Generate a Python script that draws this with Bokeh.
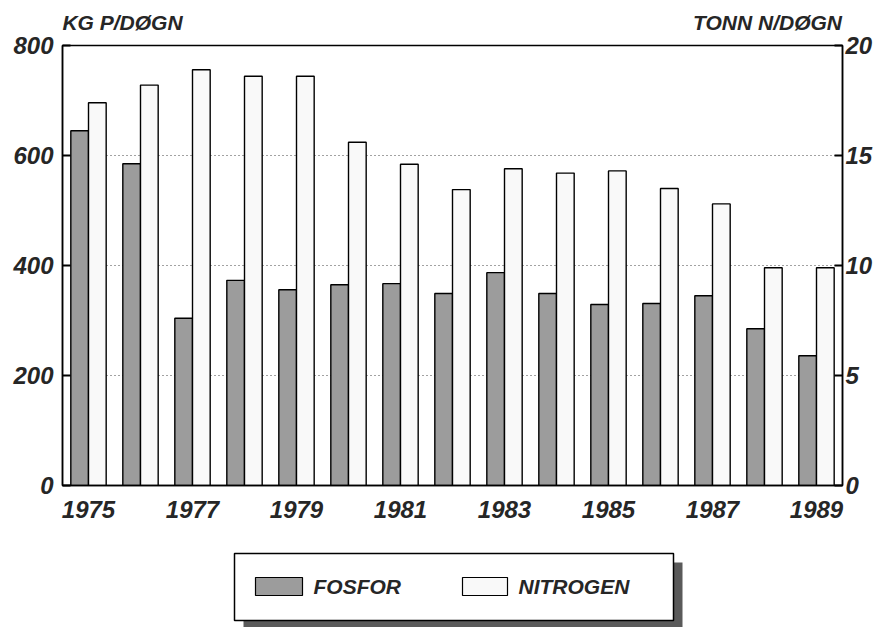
from bokeh.plotting import figure
from bokeh.models import Range1d, LinearAxis, FixedTicker
from bokeh.layouts import column
from bokeh.embed import file_html
from bokeh.resources import INLINE
from bokeh.core.properties import value

# ---- data ----
years = [1975, 1976, 1977, 1978, 1979, 1980, 1981, 1982, 1983, 1984, 1985, 1986, 1987, 1988, 1989]
fosfor = [645, 585, 304, 373, 356, 365, 367, 349, 387, 349, 329, 331, 345, 285, 236]          # kg P/døgn
nitrogen = [17.4, 18.2, 18.9, 18.6, 18.6, 15.6, 14.6, 13.45, 14.4, 14.2, 14.3, 13.5, 12.8, 9.9, 9.9]  # tonn N/døgn
year_ticks = [1975, 1977, 1979, 1981, 1983, 1985, 1987, 1989]
left_ticks = [0, 200, 400, 600, 800]
right_ticks = [0, 5, 10, 15, 20]
left_title = "KG P/DØGN"
right_title = "TONN N/DØGN"
series_names = ["FOSFOR", "NITROGEN"]

# ---- style / layout ----
FONT = "Liberation Sans"
TXT = "#262626"
C_FOS = "#9c9c9c"
C_NIT = "#f9f9f9"
BW = 0.34
FL, FW, BR = 62, 780, 39      # frame left, frame width, right border
TOP_B, FH, BOT_H, LEG_H = 45, 440, 50, 92
TITLE_POS = [60, 705]          # title centres, in pixels from the frame's left edge

# ---- main chart ----
p = figure(frame_width=FW, frame_height=FH, min_border_left=FL, min_border_right=BR,
           min_border_top=TOP_B, min_border_bottom=BOT_H,
           x_range=Range1d(years[0] - 0.5, years[-1] + 0.5), y_range=Range1d(0, 800),
           output_backend="svg", toolbar_location=None, background_fill_color="white",
           border_fill_color="white")
p.extra_y_ranges = {"n": Range1d(0, 20)}
p.extra_x_ranges = {"px": Range1d(0, FW)}

p.outline_line_color = "black"
p.outline_line_width = 1.5

p.xgrid.visible = False
p.ygrid.ticker = FixedTicker(ticks=left_ticks[1:-1])
p.ygrid.grid_line_color = "#444444"
p.ygrid.grid_line_dash = "1 3"
p.ygrid.grid_line_width = 1

xf = [y - BW / 2 for y in years]
xn = [y + BW / 2 for y in years]
p.vbar(x=xf, top=fosfor, bottom=0, width=BW, fill_color=C_FOS, line_color="black", line_width=1.4)
p.vbar(x=xn, top=nitrogen, bottom=0, width=BW, fill_color=C_NIT, line_color="black", line_width=1.4,
       y_range_name="n")

raxis = LinearAxis(y_range_name="n")
p.add_layout(raxis, "right")

for ax in [p.yaxis[0], raxis]:
    ax.major_tick_in = 8
    ax.major_tick_out = 0
    ax.minor_tick_line_color = None
    ax.major_tick_line_color = "black"
    ax.major_tick_line_width = 2
    ax.axis_line_color = "black"
    ax.axis_line_width = 1.5
    ax.major_label_text_font = FONT
    ax.major_label_text_font_style = "bold italic"
    ax.major_label_text_font_size = "24px"
    ax.major_label_text_color = TXT
p.yaxis[0].ticker = FixedTicker(ticks=left_ticks)
p.yaxis[0].major_label_standoff = 9
raxis.ticker = FixedTicker(ticks=right_ticks)
raxis.major_label_standoff = 3

xa = p.xaxis[0]
xa.ticker = FixedTicker(ticks=year_ticks)
xa.major_tick_line_color = None
xa.minor_tick_line_color = None
xa.axis_line_color = "black"
xa.axis_line_width = 1.5
xa.major_label_text_font = FONT
xa.major_label_text_font_style = "bold italic"
xa.major_label_text_font_size = "24px"
xa.major_label_text_color = TXT
xa.major_label_standoff = 9

# axis titles, set as the labels of a bare axis above the frame
tax = LinearAxis(x_range_name="px", ticker=FixedTicker(ticks=TITLE_POS),
                 major_label_overrides={TITLE_POS[0]: left_title, TITLE_POS[1]: right_title})
tax.axis_line_color = None
tax.major_tick_line_color = None
tax.minor_tick_line_color = None
tax.major_tick_in = 0
tax.major_tick_out = 0
tax.major_label_standoff = 12
tax.major_label_text_font = FONT
tax.major_label_text_font_style = "bold italic"
tax.major_label_text_font_size = "21px"
tax.major_label_text_color = TXT
p.add_layout(tax, "above")

# ---- legend panel (page-pixel layout; y measured from panel top) ----
lg = figure(frame_width=FW, frame_height=LEG_H, min_border_left=FL, min_border_right=BR,
            min_border_top=0, min_border_bottom=0,
            x_range=Range1d(FL, FL + FW), y_range=Range1d(LEG_H, 0),
            x_axis_type=None, y_axis_type=None, output_backend="svg", toolbar_location=None,
            background_fill_color="white", border_fill_color="white")
lg.outline_line_color = None
lg.grid.visible = False

top0 = TOP_B + FH + BOT_H
bx0, bx1, by0, by1 = 234, 673, 553 - top0, 620 - top0
lg.quad(left=[bx0 + 9], right=[bx1 + 9], top=[by0 + 9], bottom=[by1 + 7],
        fill_color="#5a5a5a", line_color=None)
lg.quad(left=[bx0], right=[bx1], top=[by0], bottom=[by1], fill_color="white", line_color="black",
        line_width=1.5)
sw_y0, sw_y1 = 577 - top0, 595 - top0
lg.quad(left=[255, 462], right=[302, 507], top=[sw_y0, sw_y0], bottom=[sw_y1, sw_y1],
        fill_color=[C_FOS, C_NIT], line_color="black", line_width=1.2)
lg.text(x=[313, 518], y=[(sw_y0 + sw_y1) / 2] * 2, text=series_names, text_font=value(FONT),
        text_font_style="bold italic", text_font_size="21px", text_color=TXT,
        text_baseline="middle", text_align="left")

layout = column(p, lg, spacing=0)
open("out.html", "w").write(file_html(layout, INLINE))
